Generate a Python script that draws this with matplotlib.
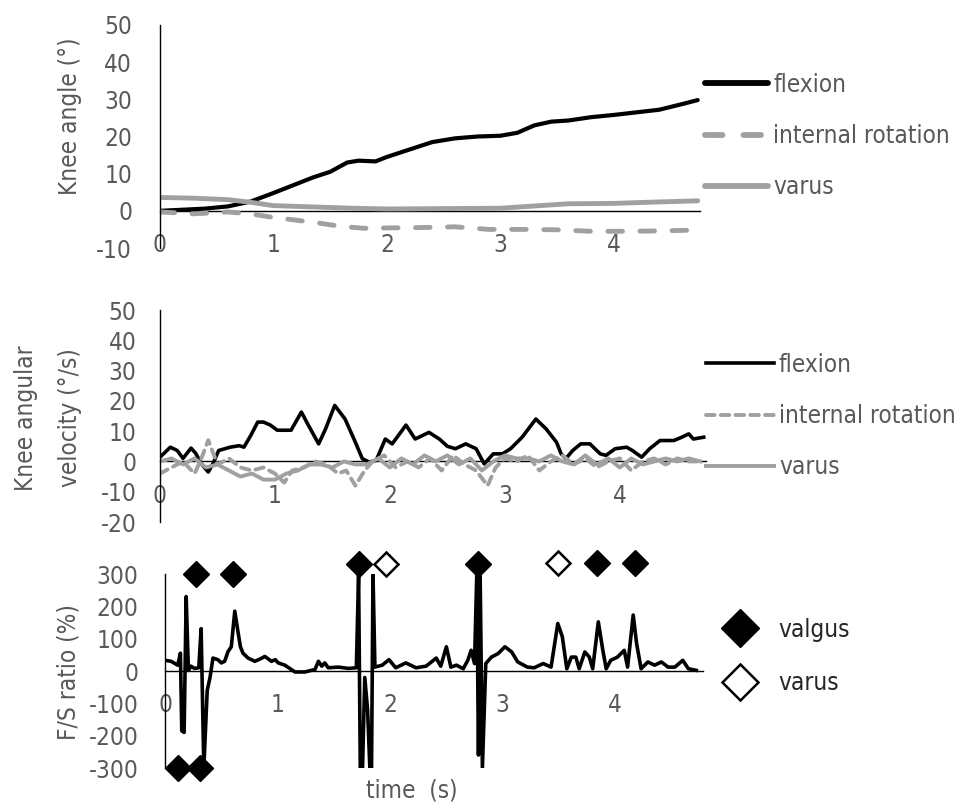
import matplotlib.pyplot as plt

plt.rcParams['font.family'] = ['DejaVu Sans']
plt.rcParams['font.stretch'] = 'condensed'
plt.rcParams['font.size'] = 17.5
plt.rcParams['axes.unicode_minus'] = False

TXT = '#595959'
GREY = '#a0a0a0'
FS = 17.5

# ---- knee angle (deg) ----
t_ang_flex = [0, 0.2, 0.4, 0.6, 0.8, 1.0, 1.2, 1.35, 1.5, 1.65, 1.75, 1.9, 2.0, 2.2,
              2.4, 2.6, 2.8, 3.0, 3.15, 3.3, 3.45, 3.6, 3.8, 4.0, 4.2, 4.4, 4.6, 4.74]
ang_flex = [0, 0.3, 0.6, 1.2, 2.5, 4.8, 7.2, 9.0, 10.5, 13.0, 13.5, 13.3, 14.5, 16.5,
            18.5, 19.5, 20.0, 20.2, 21.0, 23.0, 24.0, 24.3, 25.2, 25.8, 26.5, 27.2, 28.7, 29.8]
t_ang_ir = [0, 0.3, 0.6, 0.8, 1.0, 1.2, 1.4, 1.6, 1.8, 2.0, 2.3, 2.6, 2.9, 3.2,
            3.5, 3.8, 4.1, 4.4, 4.7]
ang_ir = [-0.3, -0.8, -0.3, -0.8, -1.8, -2.5, -3.3, -4.2, -4.7, -4.6, -4.5, -4.3, -5.0, -5.0,
          -5.1, -5.5, -5.5, -5.4, -5.2]
t_ang_var = [0, 0.3, 0.6, 0.8, 1.0, 1.3, 1.7, 2.0, 2.5, 3.0, 3.3, 3.6, 4.0, 4.3, 4.74]
ang_var = [3.6, 3.4, 3.0, 2.3, 1.4, 1.1, 0.7, 0.5, 0.6, 0.7, 1.3, 1.9, 2.0, 2.3, 2.7]

# ---- knee angular velocity (deg/s) ----
t_vel_flex = [0, 0.09, 0.15, 0.2, 0.27, 0.31, 0.36, 0.42, 0.46, 0.51,
              0.61, 0.69, 0.73, 0.79, 0.85, 0.9, 0.96, 1.02, 1.14, 1.23,
              1.29, 1.38, 1.44, 1.52, 1.61, 1.7, 1.76, 1.82, 1.88, 1.96,
              2.02, 2.14, 2.22, 2.34, 2.43, 2.5, 2.57, 2.66, 2.75, 2.82,
              2.9, 2.98, 3.05, 3.15, 3.27, 3.36, 3.45, 3.49, 3.53, 3.59,
              3.66, 3.74, 3.83, 3.88, 3.96, 4.06, 4.11, 4.19, 4.26, 4.35,
              4.47, 4.54, 4.6, 4.64, 4.73]
vel_flex = [1.4, 4.7, 3.6, 1.0, 4.4, 2.7, -0.8, -3.5, -0.8, 3.6,
            4.7, 5.2, 4.7, 8.6, 13.0, 13.0, 12.0, 10.3, 10.3, 16.3,
            12.0, 5.8, 10.7, 18.5, 14.0, 6.3, 0.9, -0.2, 0.3, 7.4,
            5.8, 12.0, 7.4, 9.6, 7.4, 5.0, 4.2, 5.8, 4.2, -0.8,
            2.5, 2.5, 4.2, 8.0, 14.0, 10.7, 6.3, 2.5, 0.9, 3.6,
            5.8, 5.8, 2.5, 2.0, 4.2, 4.7, 3.6, 1.4, 4.2, 6.9,
            6.9, 8.0, 9.1, 7.4, 8.0]
t_vel_ir = [0.0, 0.1, 0.2, 0.3, 0.35, 0.42, 0.5, 0.6, 0.7, 0.8, 0.9, 1.0, 1.08, 1.15,
            1.25, 1.35, 1.45, 1.55, 1.62, 1.7, 1.78, 1.85, 1.95, 2.05, 2.15, 2.25, 2.35,
            2.45, 2.55, 2.65, 2.75, 2.85, 2.92, 3.0, 3.1, 3.2, 3.3, 3.4, 3.5, 3.6, 3.7,
            3.8, 3.9, 4.0, 4.1, 4.2, 4.3, 4.4, 4.5, 4.6, 4.7]
vel_ir = [-4, -2, 0, -4, 0, 7, -1, 1, -2, -3, -2, -4, -7, -3,
          -2, 0, -1, -4, -3, -8, -3, 0, 2, -2, 0, -2, 1,
          -3, 2, -1, -3, -8, -2, 1, 0, 2, -3, 0, 2, -1, 1,
          -2, 0, 1, -3, 0, 1, -1, 1, 0, 0]
t_vel_var = [0.0, 0.1, 0.2, 0.3, 0.4, 0.5, 0.6, 0.7, 0.8, 0.9, 1.0, 1.1, 1.2, 1.3,
             1.4, 1.5, 1.6, 1.7, 1.8, 1.9, 2.0, 2.1, 2.2, 2.3, 2.4, 2.5, 2.6, 2.7,
             2.8, 2.9, 3.0, 3.1, 3.2, 3.3, 3.4, 3.5, 3.6, 3.7, 3.8, 3.9, 4.0, 4.1,
             4.2, 4.3, 4.4, 4.5, 4.6, 4.7]
vel_var = [0, 1, -1, 1, -2, -1, -3, -5, -4, -6, -6, -4, -3, -1,
           -1, -2, 0, -1, -1, 1, -2, 1, -1, 2, 0, 2, -1, 1,
           -3, 0, 2, 1, 1, 0, 2, 0, -1, 2, -1, 1, -2, 1,
           -1, 0, 1, 0, 1, 0]

# ---- F/S ratio (%) ----
t_fs = [0.0, 0.054, 0.113, 0.137, 0.149, 0.17, 0.188, 0.208, 0.23, 0.262,
        0.3, 0.321, 0.345, 0.375, 0.40, 0.426, 0.47, 0.50, 0.53, 0.56,
        0.589, 0.62, 0.649, 0.67, 0.693, 0.738, 0.798, 0.85, 0.887, 0.946,
        0.98, 1.006, 1.065, 1.155, 1.244, 1.333, 1.363, 1.393, 1.42, 1.45,
        1.54, 1.63, 1.70, 1.72, 1.735, 1.755, 1.775, 1.80, 1.82, 1.835,
        1.848, 1.865, 1.93, 1.99, 2.05, 2.14, 2.23, 2.32, 2.41, 2.45,
        2.5, 2.54, 2.59, 2.65, 2.69, 2.72, 2.75, 2.77, 2.785, 2.80,
        2.82, 2.85, 2.9, 2.96, 3.02, 3.08, 3.134, 3.22, 3.28, 3.36,
        3.43, 3.49, 3.53, 3.57, 3.61, 3.65, 3.68, 3.73, 3.77, 3.80,
        3.85, 3.89, 3.92, 3.96, 4.02, 4.08, 4.11, 4.16, 4.19, 4.23,
        4.29, 4.35, 4.41, 4.47, 4.53, 4.60, 4.65, 4.72]
fs = [33, 30, 18, 55, -185, -190, 230, 2, 15, 8,
      10, 131, -300, -60, -20, 40, 35, 25, 30, 60,
      75, 185, 120, 75, 55, 40, 30, 38, 45, 30,
      35, 25, 18, -3, -3, 5, 30, 15, 25, 10,
      12, 8, 10, 300, -300, -300, -20, -120, -300, -300,
      300, 12, 18, 35, 10, 25, 10, 15, 40, 15,
      75, 12, 18, 7, 33, 64, 23, 300, -260, 300,
      -300, 23, 43, 54, 75, 59, 28, 12, 10, 23,
      12, 147, 106, 7, 43, 43, 7, 59, 43, 7,
      152, 64, 7, 33, 43, 64, 12, 173, 85, 7,
      28, 18, 28, 12, 12, 33, 7, 2]

t_valgus = [0.277, 0.6, 1.72, 2.78, 3.84, 4.18, 0.113, 0.315]
y_valgus = [300, 300, 330, 330, 335, 335, -300, -300]
t_varus = [1.96, 3.49]
y_varus = [330, 335]

x_ticks = [0, 1, 2, 3, 4]

W, H = 968, 805


def add_panel(left, right, top, bottom, xmax, ylim, ystep, ypad):
    ax = fig.add_axes([left / W, 1 - bottom / H, (right - left) / W, (bottom - top) / H])
    ax.set_xlim(0, xmax)
    ax.set_ylim(*ylim)
    ax.spines['top'].set_visible(False)
    ax.spines['right'].set_visible(False)
    ax.spines['bottom'].set_position(('data', 0))
    ax.spines['bottom'].set_zorder(1)
    ax.spines['left'].set_linewidth(1.0)
    ax.spines['bottom'].set_linewidth(1.0)
    ax.set_xticks(x_ticks)
    ax.set_yticks(range(ylim[0], ylim[1] + 1, ystep))
    ax.tick_params(length=0, colors=TXT, labelsize=FS)
    ax.tick_params(axis='x', pad=16)
    ax.tick_params(axis='y', pad=ypad)
    ax.patch.set_alpha(0)
    return ax


def place_ylabel(ax, text, x_px, y_px, left, bottom, width, height, **kw):
    ax.set_ylabel(text, color=TXT, fontsize=FS, **kw)
    ax.yaxis.set_label_coords((x_px - left) / width, (bottom - y_px) / height)
    ax.yaxis.label.set_verticalalignment('center')


fig = plt.figure(figsize=(W / 100, H / 100), dpi=100)

# panel 1: knee angle
ax1 = add_panel(160, 700, 25, 248, 4.76, (-10, 50), 10, 20)
ax1.plot(t_ang_flex, ang_flex, color='black', lw=3, solid_capstyle='round', label='flexion')
ax1.plot(t_ang_ir, ang_ir, color=GREY, lw=3.5, dashes=(3.0, 3.6), dash_capstyle='round',
         label='internal rotation')
ax1.plot(t_ang_var, ang_var, color=GREY, lw=3.5, solid_capstyle='round', label='varus')
place_ylabel(ax1, 'Knee angle (°)', 70, 116, 160, 248, 540, 223)
leg1 = ax1.legend(loc='upper left', bbox_to_anchor=(705 / W, 1 - 73 / H),
                  bbox_transform=fig.transFigure, frameon=False, borderpad=0, borderaxespad=0,
                  handlelength=2.6, handletextpad=0.2, labelspacing=1.12, labelcolor=TXT,
                  fontsize=FS)
for h in leg1.get_lines():
    h.set_linewidth(4.2)

# panel 2: knee angular velocity
ax2 = add_panel(160, 706, 310, 522, 4.75, (-20, 50), 10, 17)
ax2.plot(t_vel_flex, vel_flex, color='black', lw=2.6, solid_joinstyle='round', label='flexion')
ax2.plot(t_vel_ir, vel_ir, color=GREY, lw=2.8, dashes=(2.2, 1.6), dash_capstyle='round',
         label='internal rotation')
ax2.plot(t_vel_var, vel_var, color=GREY, lw=2.8, solid_joinstyle='round', label='varus')
place_ylabel(ax2, 'Knee angular\nvelocity (°/s)', 48, 418, 160, 522, 546, 212, linespacing=2.1)
ax2.legend(loc='upper left', bbox_to_anchor=(706 / W, 1 - 353 / H), bbox_transform=fig.transFigure,
           frameon=False, borderpad=0, borderaxespad=0, handlelength=2.8, handletextpad=0.2,
           labelspacing=1.12, labelcolor=TXT, fontsize=FS)

# panel 3: F/S ratio
ax3 = add_panel(165, 703, 574, 768, 4.78, (-300, 300), 100, 19)
ax3.plot(t_fs, fs, color='black', lw=2.6, solid_joinstyle='round')
ax3.plot(t_valgus, y_valgus, ls='none', marker='D', ms=13, mfc='black', mec='black',
         clip_on=False, zorder=4, label='valgus')
ax3.plot(t_varus, y_varus, ls='none', marker='D', ms=12, mfc='white', mec='black', mew=1.8,
         clip_on=False, zorder=4, label='varus')
place_ylabel(ax3, 'F/S ratio (%)', 68, 672, 165, 768, 538, 194)
ax3.legend(loc='upper left', bbox_to_anchor=(727 / W, 1 - 618 / H), bbox_transform=fig.transFigure,
           frameon=False, borderpad=0, borderaxespad=0, markerscale=1.5, handlelength=1.1,
           handletextpad=1.0, labelspacing=1.2, labelcolor='#262626', fontsize=FS)
fig.text(412 / W, 1 - 790 / H, 'time  (s)', color=TXT, fontsize=FS, ha='center', va='center')

fig.savefig('out.png', dpi=100)
